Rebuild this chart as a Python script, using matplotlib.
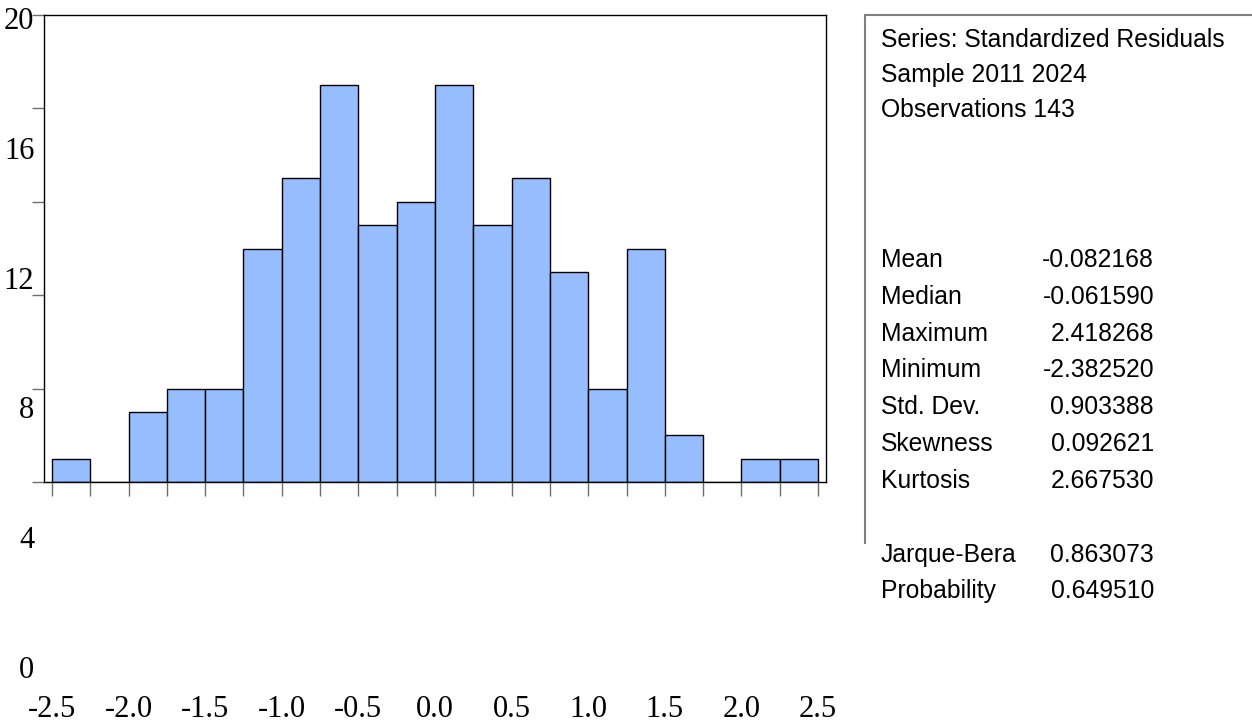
import matplotlib
matplotlib.use("Agg")
import matplotlib.pyplot as plt

# histogram of standardized residuals (bin left edges, width 0.25)
bin_left = [-2.5, -2.25, -2.0, -1.75, -1.5, -1.25, -1.0, -0.75, -0.5, -0.25,
            0.0, 0.25, 0.5, 0.75, 1.0, 1.25, 1.5, 1.75, 2.0, 2.25]
counts = [1, 0, 3, 4, 4, 10, 13, 17, 11, 12, 17, 11, 13, 9, 4, 10, 2, 0, 1, 1]
bin_width = 0.25

y_ticks = [0, 4, 8, 12, 16, 20]
x_ticks = [-2.5, -2.0, -1.5, -1.0, -0.5, 0.0, 0.5, 1.0, 1.5, 2.0, 2.5]
x_labels = ["-2.5", "-2.0", "-1.5", "-1.0", "-0.5", "0.0", "0.5", "1.0", "1.5", "2.0", "2.5"]

header = ["Series: Standardized Residuals", "Sample 2011 2024", "Observations 143"]
stat_names = ["Mean", "Median", "Maximum", "Minimum", "Std. Dev.", "Skewness", "Kurtosis"]
stat_values = ["-0.082168", "-0.061590", "2.418268", "-2.382520", "0.903388", "0.092621", "2.667530"]
test_names = ["Jarque-Bera", "Probability"]
test_values = ["0.863073", "0.649510"]

W, H = 1252, 723
fig = plt.figure(figsize=(W / 100, H / 100), dpi=100)

def box(left, top, right, bottom):
    return [left / W, 1 - bottom / H, (right - left) / W, (bottom - top) / H]

# main histogram
ax = fig.add_axes(box(44, 15, 826, 482))
ax.bar(bin_left, counts, width=bin_width, align="edge", color="#96BEFF",
       edgecolor="black", linewidth=1.0)
ax.set_xlim(-2.552, 2.552)
ax.set_ylim(0, 20)
ax.set_xticks(bin_left + [2.5])
ax.set_yticks(y_ticks)
ax.set_xticklabels([])
ax.set_yticklabels([])
ax.tick_params(axis="both", direction="out", color="#6e6e6e", width=1.0)
ax.tick_params(axis="x", length=10)
ax.tick_params(axis="y", length=9)
for s in ax.spines.values():
    s.set_color("black")
    s.set_linewidth(1.0)

# tick labels (drawn where the original puts them)
lab = fig.add_axes(box(44, 18, 826, 667))
lab.set_xlim(-2.552, 2.552)
lab.set_ylim(0, 20)
lab.set_yticks(y_ticks)
lab.set_yticklabels([str(v) for v in y_ticks])
lab.set_xticks(x_ticks)
lab.set_xticklabels(x_labels)
lab.tick_params(axis="y", length=0, pad=7, labelsize=22)
lab.tick_params(axis="x", length=0, pad=20, labelsize=22)
for t in lab.get_xticklabels() + lab.get_yticklabels():
    t.set_fontfamily("Liberation Serif")
lab.patch.set_visible(False)
for s in lab.spines.values():
    s.set_visible(False)

# statistics panel
st = fig.add_axes(box(865, 15, 1260, 543))
st.set_xticks([])
st.set_yticks([])
st.patch.set_visible(False)
for k in ["right", "bottom"]:
    st.spines[k].set_visible(False)
for k in ["left", "top"]:
    st.spines[k].set_color("#808080")
    st.spines[k].set_linewidth(1.5)

fs = 17.8
fam = "Liberation Sans"
for i, txt in enumerate(header):
    fig.text(881 / W, 1 - (40 + i * 35) / H, txt, fontsize=fs, family=fam, va="center")
for i, (n, v) in enumerate(zip(stat_names, stat_values)):
    y = 1 - (260 + i * 36.8) / H
    fig.text(881 / W, y, n, fontsize=fs, family=fam, va="center")
    fig.text(1154 / W, y, v, fontsize=fs, family=fam, va="center", ha="right")
for i, (n, v) in enumerate(zip(test_names, test_values)):
    y = 1 - (555 + i * 36) / H
    fig.text(881 / W, y, n, fontsize=fs, family=fam, va="center")
    fig.text(1154 / W, y, v, fontsize=fs, family=fam, va="center", ha="right")

fig.savefig("out.png", dpi=100)
